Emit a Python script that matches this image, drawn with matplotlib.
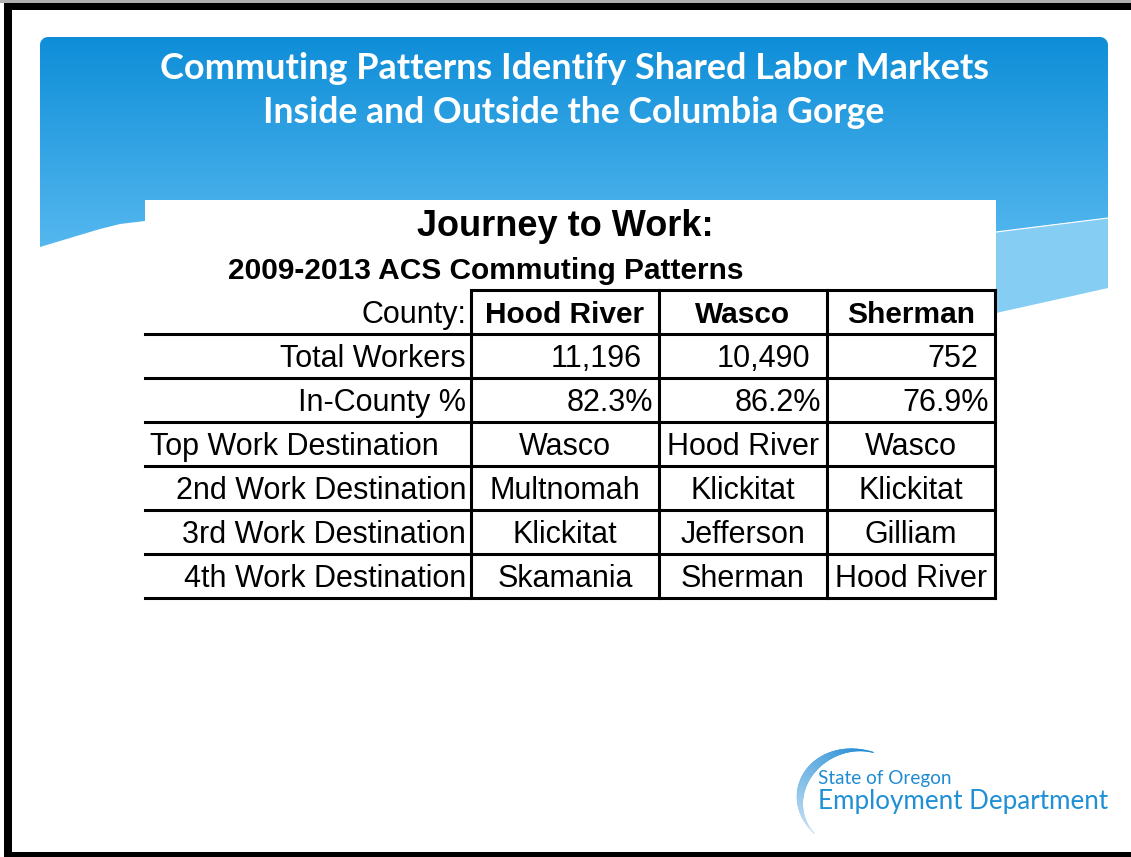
import matplotlib.pyplot as plt
import numpy as np
from matplotlib.patches import Rectangle, Polygon
from matplotlib.collections import LineCollection

# table data
counties = ['Hood River', 'Wasco', 'Sherman']
total_workers = [11196, 10490, 752]
in_county_pct = [82.3, 86.2, 76.9]
top_dest = ['Wasco', 'Hood River', 'Wasco']
second_dest = ['Multnomah', 'Klickitat', 'Klickitat']
third_dest = ['Klickitat', 'Jefferson', 'Gilliam']
fourth_dest = ['Skamania', 'Sherman', 'Hood River']
row_labels = ['Total Workers', 'In-County %', 'Top Work Destination',
              '2nd Work Destination', '3rd Work Destination', '4th Work Destination']

W, H = 1131, 857
fig = plt.figure(figsize=(W / 100, H / 100), dpi=100)
ax = fig.add_axes([0, 0, 1, 1])
ax.set_xlim(0, W)
ax.set_ylim(H, 0)
ax.axis('off')
renderer = fig.canvas.get_renderer()


def fit(t, width):
    bb = t.get_window_extent(renderer)
    t.set_fontsize(t.get_fontsize() * width / bb.width)
    return t


## header band (gradient, rounded top, curved bottom)
r = 8
pts = [(40, 247), (40, 37 + r)]
for a in np.linspace(np.pi, 1.5 * np.pi, 8):
    pts.append((40 + r + r * np.cos(a), 37 + r + r * np.sin(a)))
for a in np.linspace(1.5 * np.pi, 2 * np.pi, 8):
    pts.append((1108 - r + r * np.cos(a), 37 + r + r * np.sin(a)))
pts += [(1108, 218), (1050, 225), (996, 232), (570, 240), (145, 221),
        (120, 224), (100, 229), (80, 235), (60, 241), (40, 247)]
band = Polygon(pts, closed=True, facecolor='none', edgecolor='none')
ax.add_patch(band)

top_c = np.array([14, 142, 216]) / 255
bot_c = np.array([86, 184, 239]) / 255
t = np.linspace(0, 1, 256)[:, None]
grad = (top_c * (1 - t) + bot_c * t)[:, None, :]
im = ax.imshow(grad, extent=(40, 1108, 250, 37), aspect='auto', zorder=1)
im.set_clip_path(band)

light = Polygon([(996, 232), (1050, 225), (1108, 218), (1108, 288),
                 (1050, 301), (996, 313)], closed=True,
                facecolor='#86cdf3', edgecolor='none', zorder=1)
ax.add_patch(light)
xs = np.linspace(996, 1108, 20)
ax.plot(xs, 232 - (xs - 996) * 14 / 112, color='white', lw=0.8, zorder=2)

ax.add_patch(Rectangle((145, 200), 851, 400, facecolor='white',
                       edgecolor='none', zorder=2))

## slide title
t1 = ax.text(574, 79, 'Commuting Patterns Identify Shared Labor Markets',
             ha='center', va='baseline', color='white', fontsize=28,
             fontfamily='Lato', fontweight='bold', zorder=3)
t2 = ax.text(574, 123, 'Inside and Outside the Columbia Gorge',
             ha='center', va='baseline', color='white', fontsize=28,
             fontfamily='Lato', fontweight='bold', zorder=3)
fit(t1, 828)
fit(t2, 623)

## table
font = 'Liberation Sans'
ax.text(565, 236, 'Journey to Work:', ha='center', va='baseline',
        fontsize=26, fontweight='bold', fontfamily=font, zorder=3)
ax.text(228, 279, '2009-2013 ACS Commuting Patterns', ha='left',
        va='baseline', fontsize=21.5, fontweight='bold', fontfamily=font, zorder=3)

col_edges = [145, 471, 659, 827, 995]
row_top = 290
row_h = 44
n_rows = len(row_labels) + 1
lw = 2.2
fs = 22

# grid
ax.plot([471, 995], [row_top, row_top], color='black', lw=lw, zorder=4,
        solid_capstyle='projecting')
for i in range(1, n_rows + 1):
    y = row_top + i * row_h
    ax.plot([145, 995], [y, y], color='black', lw=lw, zorder=4,
            solid_capstyle='projecting')
for x in col_edges[1:]:
    ax.plot([x, x], [row_top, row_top + n_rows * row_h], color='black',
            lw=lw, zorder=4, solid_capstyle='projecting')

base = 33
centers = [(col_edges[j + 1] + col_edges[j + 2]) / 2 for j in range(3)]

ax.text(466, row_top + base, 'County:', ha='right', va='baseline',
        fontsize=fs, fontfamily=font, zorder=5)
for j, c in enumerate(counties):
    ax.text(centers[j], row_top + base, c, ha='center', va='baseline',
            fontsize=21.5, fontweight='bold', fontfamily=font, zorder=5)

values = [[f'{v:,}' for v in total_workers],
          [f'{v:.1f}%' for v in in_county_pct],
          top_dest, second_dest, third_dest, fourth_dest]

for i, lab in enumerate(row_labels):
    y = row_top + (i + 1) * row_h + base
    if lab.startswith('Top'):
        ax.text(150, y, lab, ha='left', va='baseline', fontsize=fs,
                fontfamily=font, zorder=5)
    else:
        ax.text(466, y, lab, ha='right', va='baseline', fontsize=fs,
                fontfamily=font, zorder=5)
    for j, v in enumerate(values[i]):
        if i == 0:
            ax.text(col_edges[j + 2] - 17, y, v, ha='right', va='baseline',
                    fontsize=fs, fontfamily=font, zorder=5)
        elif i == 1:
            ax.text(col_edges[j + 2] - 6, y, v, ha='right', va='baseline',
                    fontsize=fs, fontfamily=font, zorder=5)
        else:
            ax.text(centers[j], y, v, ha='center', va='baseline',
                    fontsize=fs, fontfamily=font, zorder=5)

## logo
th = np.radians(np.linspace(72, 222, 120))
cx, cy = 856, 800
px = cx + 56 * np.cos(th)
py = cy - 50 * np.sin(th)
segs = np.stack([np.column_stack([px[:-1], py[:-1]]),
                 np.column_stack([px[1:], py[1:]])], axis=1)
s = np.linspace(0, 1, len(segs))
c0 = np.array([25, 135, 210]) / 255
c1 = np.array([205, 228, 246]) / 255
cols = c0 * (1 - s[:, None]) + c1 * s[:, None]
widths = 0.8 + 5.5 * np.sin(np.pi * s) ** 1.5
ax.add_collection(LineCollection(segs, colors=cols, linewidths=widths,
                                 capstyle='round', zorder=3))
l1 = ax.text(818, 784, 'State of Oregon', ha='left', va='baseline',
             color='#1f8cd2', fontsize=14, fontfamily='Lato', zorder=4)
l2 = ax.text(818, 809, 'Employment Department', ha='left', va='baseline',
             color='#1f8fd6', fontsize=18, fontfamily='Lato', zorder=4)
fit(l1, 133)
fit(l2, 289)

## slide frame
ax.add_patch(Rectangle((0, 0), W, 3, facecolor='#b0b0b0', edgecolor='none', zorder=6))
ax.add_patch(Rectangle((4, 3), W - 4, 7, facecolor='black', edgecolor='none', zorder=6))
ax.add_patch(Rectangle((4, 3), 8, H - 3, facecolor='black', edgecolor='none', zorder=6))
ax.add_patch(Rectangle((4, 852), W - 4, 5, facecolor='black', edgecolor='none', zorder=6))

ax.set_xlim(0, W)
ax.set_ylim(H, 0)
fig.savefig('out.png', dpi=100)
